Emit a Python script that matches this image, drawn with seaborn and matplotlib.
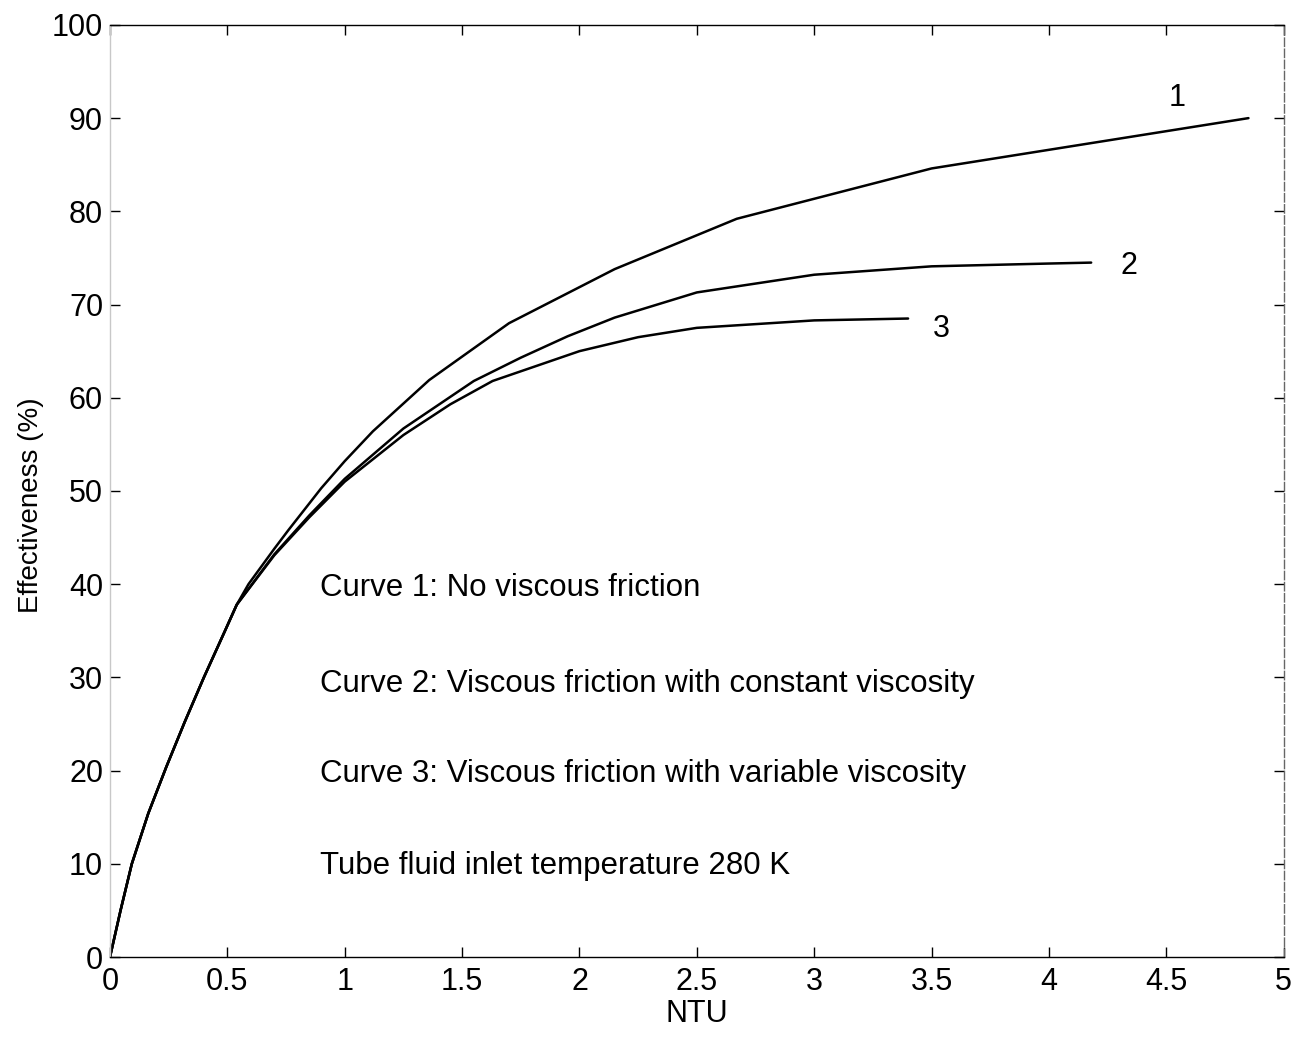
import numpy as np
import pandas as pd
import matplotlib
matplotlib.use("Agg")
import matplotlib.pyplot as plt
import seaborn as sns

# Curve 1: no viscous friction
ntu_1 = [0, 0.045, 0.093, 0.163, 0.24, 0.318, 0.40, 0.49, 0.54, 0.59, 0.70, 0.76, 0.90, 1.00, 1.12, 1.36, 1.70, 2.15, 2.67, 3.50, 4.85]
eff_1 = [0, 5.0, 10.0, 15.4, 20.4, 25.2, 30.0, 35.0, 37.8, 40.0, 43.8, 45.8, 50.3, 53.2, 56.4, 61.9, 68.0, 73.8, 79.2, 84.6, 90.0]
# Curve 2: viscous friction with constant viscosity
ntu_2 = [0, 0.045, 0.093, 0.163, 0.24, 0.318, 0.40, 0.49, 0.54, 0.70, 0.85, 1.00, 1.25, 1.55, 1.75, 1.95, 2.15, 2.50, 3.00, 3.50, 4.00, 4.18]
eff_2 = [0, 5.0, 10.0, 15.4, 20.4, 25.2, 30.0, 35.0, 37.8, 43.2, 47.4, 51.3, 56.7, 61.8, 64.3, 66.6, 68.6, 71.3, 73.2, 74.1, 74.4, 74.5]
# Curve 3: viscous friction with variable viscosity
ntu_3 = [0, 0.045, 0.093, 0.163, 0.24, 0.318, 0.40, 0.49, 0.54, 0.70, 0.85, 1.00, 1.25, 1.45, 1.63, 2.00, 2.25, 2.50, 3.00, 3.40]
eff_3 = [0, 5.0, 10.0, 15.4, 20.4, 25.2, 30.0, 35.0, 37.8, 43.1, 47.2, 51.0, 56.0, 59.3, 61.8, 65.0, 66.5, 67.5, 68.3, 68.5]

curve_names = ["1", "2", "3"]
annotations = [
    "Curve 1: No viscous friction",
    "Curve 2: Viscous friction with constant viscosity",
    "Curve 3: Viscous friction with variable viscosity",
    "Tube fluid inlet temperature 280 K",
]
x_ticks = [0, 0.5, 1, 1.5, 2, 2.5, 3, 3.5, 4, 4.5, 5]
x_tick_labels = ["0", "0.5", "1", "1.5", "2", "2.5", "3", "3.5", "4", "4.5", "5"]
y_ticks = [0, 10, 20, 30, 40, 50, 60, 70, 80, 90, 100]

df = pd.concat([
    pd.DataFrame({"NTU": ntu_1, "eff": eff_1, "curve": "1"}),
    pd.DataFrame({"NTU": ntu_2, "eff": eff_2, "curve": "2"}),
    pd.DataFrame({"NTU": ntu_3, "eff": eff_3, "curve": "3"}),
], ignore_index=True)

sns.set_style("ticks")
plt.rcParams["font.family"] = ["Liberation Sans", "DejaVu Sans"]
plt.rcParams["text.color"] = "black"
plt.rcParams["axes.labelcolor"] = "black"

fig = plt.figure(figsize=(12.94, 10.38), dpi=100)
ax = fig.add_axes([0.085, 0.078, 0.907, 0.898])

sns.lineplot(data=df, x="NTU", y="eff", hue="curve", sort=False,
             palette={"1": "black", "2": "black", "3": "black"},
             linewidth=1.8, legend=False, ax=ax, estimator=None)

ax.set_xlim(0, 5)
ax.set_ylim(0, 100)
ax.set_xticks(x_ticks)
ax.set_xticklabels(x_tick_labels)
ax.set_yticks(y_ticks)
ax.tick_params(direction="in", length=7, width=1, top=True, right=True,
               labelsize=22, colors="black")
ax.tick_params(axis="x", pad=7)
ax.tick_params(axis="y", pad=5)
for s in ax.spines.values():
    s.set_visible(True)
    s.set_color("black")
    s.set_linewidth(1.0)
ax.spines["left"].set_color("#c8c8c8")
ax.spines["right"].set_color("#666666")
ax.spines["right"].set_linestyle((0, (6, 2)))

ax.set_xlabel("NTU", fontsize=22)
ax.set_ylabel("Effectiveness (%)", fontsize=20)
ax.xaxis.set_label_coords(0.5, -0.045)
ax.yaxis.set_label_coords(-0.056, 0.485)

# curve number labels
label_pos = [(4.545, 92.2), (4.34, 74.1), (3.54, 67.4)]
for name, (lx, ly) in zip(curve_names, label_pos):
    ax.text(lx, ly, name, fontsize=22, ha="center", va="center")

ann_y = [39.6, 29.3, 19.6, 9.8]
for txt, ty in zip(annotations, ann_y):
    ax.text(0.895, ty, txt, fontsize=22.5, ha="left", va="center")

fig.savefig("out.png", dpi=100, facecolor="white")
